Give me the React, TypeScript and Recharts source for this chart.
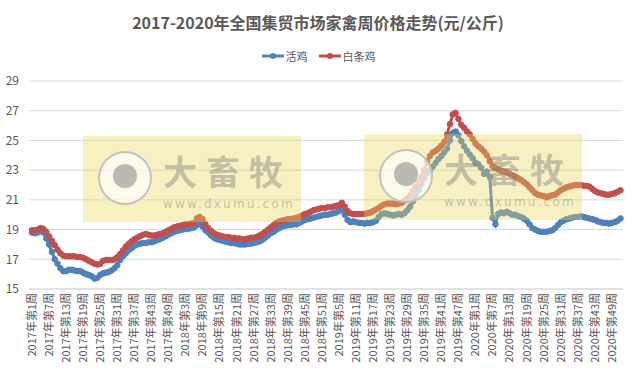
import React from 'react';
import { LineChart, Line, XAxis, YAxis, CartesianGrid } from 'recharts';

const years = ['2017', '2018', '2019', '2020'];
const weeksPerYear = 52;
const yTicks = [15, 17, 19, 21, 23, 25, 27, 29];

// 活鸡 weekly price, 2017 W1 .. 2020 W52
const liveChicken = [
  18.8, 18.75, 18.8, 18.9, 18.8, 18.4, 18.0, 17.5, 17.0, 16.7, 16.4, 16.2, 16.2,
  16.3, 16.3, 16.25, 16.2, 16.2, 16.1, 16.0, 15.95, 15.85, 15.7, 15.75, 15.95, 16.05,
  16.1, 16.15, 16.25, 16.4, 16.6, 16.95, 17.2, 17.4, 17.6, 17.75, 17.9, 18.0, 18.05,
  18.1, 18.1, 18.15, 18.15, 18.2, 18.3, 18.35, 18.45, 18.55, 18.65, 18.75, 18.85, 18.9,
  18.95, 19.0, 19.05, 19.05, 19.1, 19.15, 19.3, 19.45, 19.2, 18.95, 18.8, 18.6, 18.45,
  18.35, 18.3, 18.25, 18.2, 18.15, 18.1, 18.1, 18.05, 18.0, 18.0, 18.0, 18.05, 18.05,
  18.1, 18.15, 18.2, 18.3, 18.45, 18.6, 18.75, 18.85, 19.0, 19.1, 19.2, 19.25, 19.3,
  19.3, 19.35, 19.35, 19.45, 19.55, 19.65, 19.7, 19.75, 19.8, 19.85, 19.9, 19.95, 20.0,
  20.0, 20.05, 20.1, 20.15, 20.25, 20.4, 20.0, 19.65, 19.5, 19.55, 19.5, 19.45, 19.45,
  19.4, 19.45, 19.45, 19.5, 19.6, 19.85, 20.05, 20.1, 20.05, 20.0, 19.95, 20.0, 20.05,
  20.0, 20.1, 20.3, 20.55, 20.9, 21.3, 21.65, 22.05, 22.45, 22.8, 23.0, 23.25, 23.5,
  23.75, 23.95, 24.2, 24.45, 25.0, 25.5, 25.6, 25.35, 24.95, 24.6, 24.3, 24.05, 23.8,
  23.5, 23.4, 23.15, 22.75, 22.9, 22.55, 19.8, 19.35, 20.05, 20.15, 20.1, 20.2, 20.1,
  20.0, 20.0, 19.9, 19.85, 19.75, 19.6, 19.35, 19.1, 19.0, 18.9, 18.85, 18.85, 18.85,
  18.9, 18.95, 19.1, 19.3, 19.5, 19.6, 19.7, 19.75, 19.8, 19.85, 19.85, 19.9, 19.85,
  19.8, 19.75, 19.7, 19.65, 19.55, 19.5, 19.45, 19.45, 19.4, 19.45, 19.5, 19.6, 19.75,
];

// 白条鸡 weekly price
const whiteStrip = [
  18.95, 18.95, 19.0, 19.1, 19.05, 18.85, 18.55, 18.25, 17.95, 17.65, 17.4, 17.25, 17.2,
  17.2, 17.2, 17.2, 17.15, 17.15, 17.1, 17.0, 16.9, 16.8, 16.7, 16.65, 16.7, 16.9,
  16.95, 16.95, 16.95, 17.0, 17.15, 17.35, 17.6, 17.85, 18.05, 18.2, 18.35, 18.45, 18.55,
  18.65, 18.7, 18.65, 18.6, 18.6, 18.65, 18.7, 18.75, 18.85, 18.95, 19.05, 19.15, 19.2,
  19.25, 19.3, 19.35, 19.35, 19.4, 19.45, 19.75, 19.85, 19.7, 19.35, 19.1, 18.9, 18.75,
  18.65, 18.6, 18.55, 18.5, 18.5, 18.45, 18.45, 18.4, 18.4, 18.35, 18.35, 18.4, 18.45,
  18.45, 18.5, 18.6, 18.7, 18.85, 19.0, 19.15, 19.3, 19.45, 19.55, 19.6, 19.65, 19.7,
  19.7, 19.75, 19.8, 19.85, 19.95, 20.05, 20.1, 20.2, 20.3, 20.35, 20.4, 20.45, 20.45,
  20.5, 20.5, 20.55, 20.6, 20.65, 20.8, 20.55, 20.25, 20.1, 20.05, 20.05, 20.05, 20.05,
  20.05, 20.1, 20.15, 20.25, 20.35, 20.45, 20.6, 20.7, 20.75, 20.75, 20.75, 20.7, 20.75,
  20.8, 20.95, 21.1, 21.3, 21.6, 21.9, 22.2, 22.55, 23.0, 23.6, 23.95, 24.2, 24.3,
  24.45, 24.65, 24.9, 25.4, 26.1, 26.75, 26.85, 26.45, 26.05, 25.85, 25.6, 25.4, 25.1,
  24.8, 24.6, 24.45, 24.25, 24.0, 23.6, 23.25, 23.15, 23.05, 22.95, 22.9, 22.85, 22.75,
  22.65, 22.55, 22.45, 22.35, 22.2, 22.05, 21.85, 21.65, 21.45, 21.35, 21.3, 21.25, 21.2,
  21.25, 21.3, 21.35, 21.5, 21.65, 21.75, 21.85, 21.9, 21.95, 22.0, 22.0, 22.0, 21.95,
  21.95, 21.9, 21.75, 21.6, 21.5, 21.45, 21.4, 21.35, 21.35, 21.4, 21.45, 21.55, 21.65,
];

const weeks: string[] = [];
years.forEach((y) => {
  for (let w = 1; w <= weeksPerYear; w++) weeks.push(`${y}年第${w}周`);
});

const rows = weeks.map((week, i) => ({ week, live: liveChicken[i], white: whiteStrip[i] }));

const BLUE = '#4F81BD';
const RED = '#C0504D';
const TEXT = '#595959';
const FONT = '"Noto Sans CJK SC", "Noto Sans", sans-serif';

const WeekTick = (props: any) => {
  const { x, y, payload } = props;
  return (
    <text
      x={x}
      y={y}
      transform={`rotate(-90, ${x}, ${y})`}
      textAnchor="end"
      dy="0.35em"
      fontSize={11}
      fill={TEXT}
      fontFamily={FONT}
    >
      {payload.value}
    </text>
  );
};

// semi-transparent site watermark laid over the plot
const Watermark = ({ left, top }: { left: number; top: number }) => (
  <div
    style={{
      position: 'absolute', left, top, width: 218, height: 86,
      background: 'rgba(232,214,90,0.36)', pointerEvents: 'none',
    }}
  >
    <div
      style={{
        position: 'absolute', left: 15, top: 15, width: 50, height: 50, borderRadius: '50%',
        border: '2px solid rgba(175,175,175,0.75)', background: 'rgba(255,255,255,0.65)',
      }}
    >
      <div
        style={{
          position: 'absolute', left: 13, top: 11, width: 24, height: 24, borderRadius: '50%',
          background: 'rgba(150,150,150,0.65)',
        }}
      />
    </div>
    <div
      style={{
        position: 'absolute', left: 80, top: 18, height: 34, fontSize: 34, lineHeight: '34px', fontWeight: 700,
        letterSpacing: 9, color: 'rgba(120,120,120,0.42)', fontFamily: FONT, whiteSpace: 'nowrap',
      }}
    >
      大畜牧
    </div>
    <div
      style={{
        position: 'absolute', left: 80, top: 61, height: 14, fontSize: 12, lineHeight: '14px', letterSpacing: 2.2,
        color: 'rgba(120,120,120,0.42)', fontFamily: 'DejaVu Sans, sans-serif', whiteSpace: 'nowrap',
      }}
    >
      www.dxumu.com
    </div>
  </div>
);

const LegendItem = ({ color, label }: { color: string; label: string }) => (
  <span style={{ display: 'inline-flex', alignItems: 'center', margin: '0 5px' }}>
    <svg width={24} height={10}>
      <line x1={1} y1={5} x2={23} y2={5} stroke={color} strokeWidth={3} />
      <circle cx={12} cy={5} r={3} fill={color} />
    </svg>
    <span style={{ marginLeft: 1 }}>{label}</span>
  </span>
);

export default function App() {
  return (
    <div style={{ position: 'absolute', left: 0, top: 0, width: 636, height: 376, background: '#fff' }}>
      <div
        style={{
          position: 'absolute', left: 0, top: 10, width: 636, textAlign: 'center',
          fontSize: 16, fontWeight: 700, color: TEXT, fontFamily: FONT, lineHeight: '24px',
        }}
      >
        2017-2020年全国集贸市场家禽周价格走势(元/公斤)
      </div>
      <div
        style={{
          position: 'absolute', left: 0, top: 47, width: 636, display: 'flex', justifyContent: 'center',
          fontSize: 11, color: TEXT, fontFamily: FONT, lineHeight: '18px',
        }}
      >
        <LegendItem color={BLUE} label="活鸡" />
        <LegendItem color={RED} label="白条鸡" />
      </div>
      <LineChart width={636} height={376} data={rows} margin={{ top: 81, right: 13, bottom: 0, left: 0 }}>
        <CartesianGrid vertical={false} stroke="#D9D9D9" />
        <XAxis
          dataKey="week"
          interval={5}
          height={87}
          padding={{ left: 3, right: 2.5 }}
          tickLine={false}
          tickSize={0}
          tickMargin={4}
          axisLine={{ stroke: '#D9D9D9' }}
          tick={<WeekTick />}
        />
        <YAxis
          domain={[15, 29]}
          ticks={yTicks}
          width={29}
          axisLine={false}
          tickLine={false}
          tickSize={0}
          tickMargin={10}
          tick={{ fontSize: 12, fill: TEXT, fontFamily: FONT }}
        />
        <Line
          type="linear"
          dataKey="live"
          name="活鸡"
          stroke={BLUE}
          strokeWidth={3}
          dot={{ r: 2.8, fill: BLUE, stroke: BLUE, strokeWidth: 1 }}
          isAnimationActive={false}
        />
        <Line
          type="linear"
          dataKey="white"
          name="白条鸡"
          stroke={RED}
          strokeWidth={3}
          dot={{ r: 2.8, fill: RED, stroke: RED, strokeWidth: 1 }}
          isAnimationActive={false}
        />
      </LineChart>
      <Watermark left={83} top={136} />
      <Watermark left={364} top={134} />
    </div>
  );
}
